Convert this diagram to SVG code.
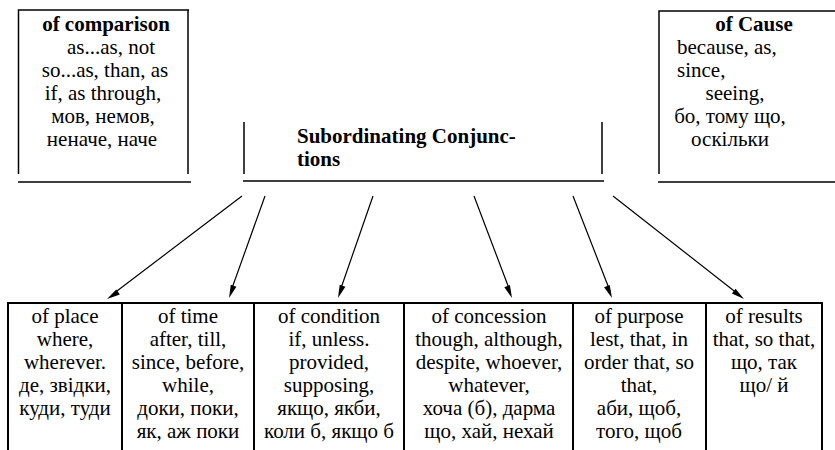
<svg xmlns="http://www.w3.org/2000/svg" width="835" height="450" viewBox="0 0 835 450" font-family="Liberation Serif, serif" font-size="21">
  <style>
    .b { font-weight: bold; }
    .m { text-anchor: middle; }
    .frame { stroke: #000; stroke-width: 1.5; fill: none; }
    .grid { stroke: #000; stroke-width: 2; fill: none; }
    .arrow { stroke: #000; stroke-width: 1.2; fill: none; }
    .tip { fill: #000; }
  </style>
  <rect width="835" height="450" fill="#fff"/>

  <g id="comparison">
    <path class="frame" d="M18.5,174 V10 H189 M188,10 V174 M18,182 H191"/>
    <text class="b m" x="106" y="31">of comparison</text>
    <text class="m" x="111" y="54">as...as, not</text>
    <text class="m" x="105" y="77">so...as, than, as</text>
    <text class="m" x="103" y="100">if, as through,</text>
    <text class="m" x="103" y="123">мов, немов,</text>
    <text class="m" x="102" y="146">неначе, наче</text>
  </g>

  <g id="subordinating">
    <path class="frame" d="M244,122 V174 M602,122 V174 M243,181 H604"/>
    <text class="b" x="297" y="143">Subordinating Conjunc-</text>
    <text class="b" x="297" y="166">tions</text>
  </g>

  <g id="cause">
    <path class="frame" d="M659,174 V11 H835 M658,182 H835"/>
    <text class="b m" x="754" y="31">of Cause</text>
    <text x="677" y="54">because, as,</text>
    <text x="677" y="77">since,</text>
    <text class="m" x="735" y="100">seeing,</text>
    <text class="m" x="730" y="123">бо, тому що,</text>
    <text class="m" x="730" y="146">оскільки</text>
  </g>

  <g id="connectors">
    <path class="arrow" d="M242,196 L113,294 M265,196 L231,291 M373,196 L340,291 M474,196 L510,291 M573,196 L610,291 M613,196 L738,294"/>
    <path class="tip" d="M107,299 L116.3,289.6 L119.9,294.4 Z"/>
    <path class="tip" d="M229,298 L230.8,284.8 L236.4,286.8 Z"/>
    <path class="tip" d="M338,298 L339.7,284.8 L345.4,286.8 Z"/>
    <path class="tip" d="M512,298 L504.3,287.2 L509.9,285.1 Z"/>
    <path class="tip" d="M612,298 L604.1,287.3 L609.7,285.1 Z"/>
    <path class="tip" d="M744,299 L731.9,293.5 L735.6,288.8 Z"/>
  </g>

  <path class="grid" d="M8,450 V303 H822 V450 M122,303 V450 M254,303 V450 M404,303 V450 M573,303 V450 M706,303 V450"/>

  <g id="place">
    <text class="m" x="65" y="323">of place</text>
    <text class="m" x="65" y="346">where,</text>
    <text class="m" x="65" y="369">wherever.</text>
    <text class="m" x="65" y="392">де, звідки,</text>
    <text class="m" x="65" y="415">куди, туди</text>
  </g>
  <g id="time">
    <text class="m" x="188" y="323">of time</text>
    <text class="m" x="188" y="346">after, till,</text>
    <text class="m" x="188" y="369">since, before,</text>
    <text class="m" x="188" y="392">while,</text>
    <text class="m" x="188" y="415">доки, поки,</text>
    <text class="m" x="188" y="438">як, аж поки</text>
  </g>
  <g id="condition">
    <text class="m" x="329" y="323">of condition</text>
    <text class="m" x="329" y="346">if, unless.</text>
    <text class="m" x="329" y="369">provided,</text>
    <text class="m" x="329" y="392">supposing,</text>
    <text class="m" x="329" y="415">якщо, якби,</text>
    <text class="m" x="329" y="438">коли б, якщо б</text>
  </g>
  <g id="concession">
    <text class="m" x="489" y="323">of concession</text>
    <text class="m" x="489" y="346">though, although,</text>
    <text class="m" x="489" y="369">despite, whoever,</text>
    <text class="m" x="489" y="392">whatever,</text>
    <text class="m" x="489" y="415">хоча (б), дарма</text>
    <text class="m" x="489" y="438">що, хай, нехай</text>
  </g>
  <g id="purpose">
    <text class="m" x="639" y="323">of purpose</text>
    <text class="m" x="639" y="346">lest, that, in</text>
    <text class="m" x="639" y="369">order that, so</text>
    <text class="m" x="639" y="392">that,</text>
    <text class="m" x="639" y="415">аби, щоб,</text>
    <text class="m" x="639" y="438">того, щоб</text>
  </g>
  <g id="results">
    <text class="m" x="764" y="323">of results</text>
    <text class="m" x="764" y="346">that, so that,</text>
    <text class="m" x="764" y="369">що, так</text>
    <text class="m" x="764" y="392">що/ й</text>
  </g>
</svg>
